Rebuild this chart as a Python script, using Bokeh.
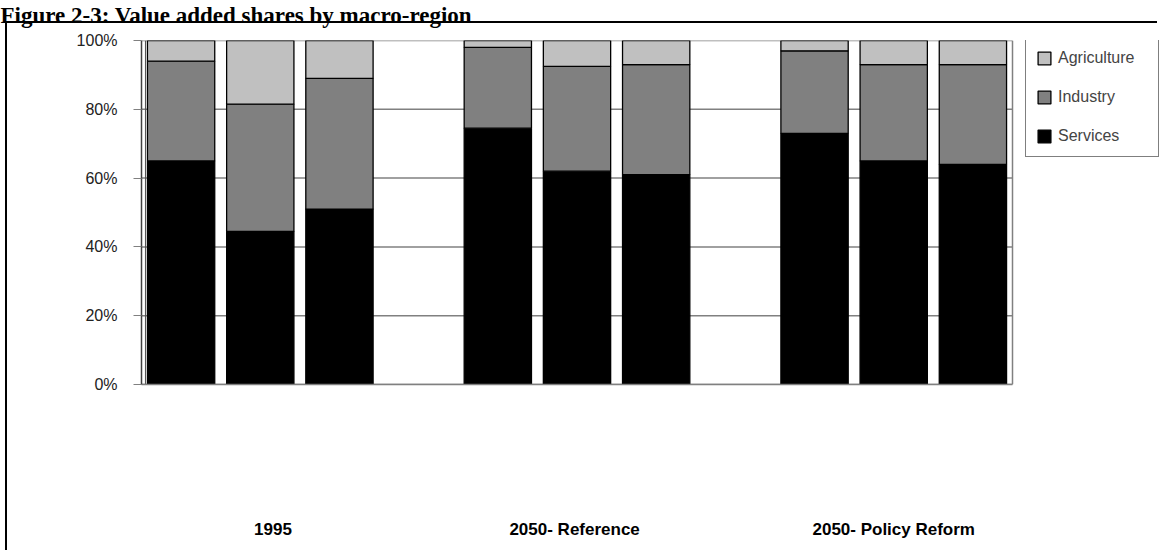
from bokeh.plotting import figure
from bokeh.models import (Range1d, FixedTicker, PrintfTickFormatter, Legend,
                          ColumnDataSource)
from bokeh.embed import file_html
from bokeh.resources import INLINE

# Value added shares (%) by macro-region, per period
periods = ["1995", "2050- Reference", "2050- Policy Reform"]
regions = ["Region 1", "Region 2", "Region 3"]
sectors = ["Services", "Industry", "Agriculture"]

services = [65, 44.5, 51, 74.5, 62, 61, 73, 65, 64]
industry = [29, 37, 38, 23.5, 30.5, 32, 24, 28, 29]
agriculture = [6, 18.5, 11, 2, 7.5, 7, 3, 7, 7]

y_ticks = [0, 20, 40, 60, 80, 100]
colors = ["#000000", "#808080", "#c0c0c0"]

# one slot per bar, with an empty slot between periods
slots_per_group = len(regions) + 1
xpos = [g * slots_per_group + r + 0.5 for g in range(len(periods)) for r in range(len(regions))]
n_slots = len(periods) * slots_per_group - 1
source = ColumnDataSource(dict(x=xpos, Services=services, Industry=industry,
                               Agriculture=agriculture))

SANS = "Liberation Sans"

# canvas geometry: the heading runs off the top edge, so the canvas is raised a little
SHIFT = 14
W, H = 1161, 550 + SHIFT
LEFT, TOP, BOTTOM = 141, 40 + SHIFT, 166
PLOT_W = 871
x_end = n_slots * (W - LEFT) / PLOT_W

# black frame around the chart (top and left edges), drawn behind a transparent canvas
box_style = {
    "position": "relative",
    "top": f"-{SHIFT}px",
    "background-image": "linear-gradient(#000,#000), linear-gradient(#000,#000)",
    "background-position": f"5px {21 + SHIFT}px, 5px {21 + SHIFT}px",
    "background-size": "1152px 2px, 2px 560px",
    "background-repeat": "no-repeat",
}

p = figure(width=W, height=H, output_backend="svg", toolbar_location=None,
           x_range=Range1d(0, x_end), y_range=Range1d(0, 100),
           min_border_left=LEFT, min_border_right=0, min_border_top=TOP,
           min_border_bottom=BOTTOM,
           title="Figure 2-3: Value added shares by macro-region")
p.styles = box_style
p.border_fill_color = None
p.outline_line_color = None

p.title.text_font = "Liberation Serif"
p.title.text_font_style = "bold"
p.title.text_font_size = "23px"
p.title.text_color = "#000000"
p.title.offset = -LEFT
p.title.standoff = SHIFT + 7
p.title.vertical_align = "top"
p.title.text_line_height = 0.8

# horizontal gridlines across the plot area only
p.xgrid.grid_line_color = None
p.ygrid.grid_line_color = None
p.segment(x0=0, x1=n_slots, y0=y_ticks, y1=y_ticks, line_color="#808080", line_width=1.5)
# right edge of the plot area
p.segment(x0=n_slots, x1=n_slots, y0=0, y1=100, line_color="#808080", line_width=1.5)

renderers = p.vbar_stack(sectors, x="x", width=0.85, source=source,
                         fill_color=colors, line_color="#000000", line_width=1.3)

p.yaxis.ticker = FixedTicker(ticks=y_ticks)
p.yaxis.formatter = PrintfTickFormatter(format="%d%%")
p.yaxis.major_label_text_font = SANS
p.yaxis.major_label_text_font_size = "16px"
p.yaxis.major_label_text_color = "#222222"
p.yaxis.major_label_standoff = 16
p.yaxis.major_tick_out = 8
p.yaxis.major_tick_in = 0
p.yaxis.minor_tick_line_color = None
p.yaxis.major_tick_line_color = "#808080"
p.yaxis.axis_line_color = "#404040"
p.yaxis.axis_line_width = 1.5

# inner wall edge next to the value axis
p.segment(x0=0.05, x1=0.05, y0=0, y1=100, line_color="#505050", line_width=1)

# period labels along the bottom
label_ticks = [1.66, 5.47, 9.5]
xa = p.xaxis[0]
xa.ticker = FixedTicker(ticks=label_ticks)
xa.major_label_overrides = dict(zip(label_ticks, periods))
xa.bounds = (0, n_slots)
xa.axis_line_color = "#808080"
xa.axis_line_width = 1.5
xa.major_tick_line_color = None
xa.minor_tick_line_color = None
xa.major_label_standoff = 129
xa.major_label_text_font = SANS
xa.major_label_text_font_style = "bold"
xa.major_label_text_font_size = "17px"
xa.major_label_text_color = "#000000"

legend = Legend(items=[(s, [r]) for s, r in zip(sectors[::-1], renderers[::-1])],
                location=(884, 227), label_text_font=SANS,
                label_text_font_size="16px", glyph_width=16, glyph_height=16,
                label_height=20, label_width=90, spacing=19, padding=10,
                label_standoff=6, border_line_color="#000000", border_line_width=1,
                background_fill_alpha=1.0)
p.add_layout(legend, "center")

open("out.html", "w").write(file_html(p, INLINE))
